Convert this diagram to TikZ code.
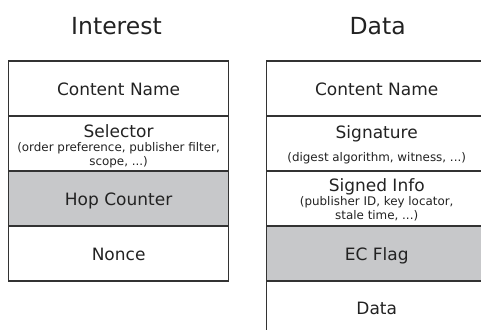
\documentclass[tikz,border=0pt]{standalone}
\usepackage{fontspec}
\setmainfont{DejaVu Sans}
\definecolor{fieldgray}{RGB}{199,200,202}
\definecolor{linecol}{RGB}{51,51,51}
\definecolor{txt}{RGB}{34,34,34}
\begin{document}
\begin{tikzpicture}[x=1pt,y=-1pt,
  field/.style={draw=linecol, line width=1.2pt, minimum width=220pt, minimum height=55pt, inner sep=0pt, outer sep=0pt},
  shaded/.style={field, fill=fieldgray},
  titletext/.style={font=\fontsize{23.5}{28}\selectfont, text=txt, anchor=base, inner sep=0pt},
  maintext/.style={font=\fontsize{17}{20}\selectfont, text=txt, anchor=base, inner sep=0pt},
  subtext/.style={font=\fontsize{11.9}{14}\selectfont, text=txt, anchor=base, inner sep=0pt}]
\useasboundingbox (0,0) rectangle (481,329);
\clip (0,0) rectangle (481,329);
% titles
\node[titletext] (tint) at (116.5,34.3) {Interest};
\node[titletext] (tdat) at (377.7,34.3) {Data};
% Interest fields
\node[field]  (iname) at (118.6,88.5)  {};
\node[field]  (isel)  at (118.6,143.5) {};
\node[shaded] (ihop)  at (118.6,198.5) {};
\node[field]  (inon)  at (118.6,253.5) {};
% Data fields
\node[field]  (dname) at (376.7,88.5)  {};
\node[field]  (dsig)  at (376.7,143.5) {};
\node[field]  (dinf)  at (376.7,198.5) {};
\node[shaded] (decf)  at (376.7,253.5) {};
\node[field]  (ddat)  at (376.7,308.5) {};
% Interest texts
\node[maintext] (inameT) at (118.6,95.5) {Content Name};
\node[maintext] (iselT)  at (118.6,137) {Selector};
\node[subtext]  (iselA)  at (118.6,151) {(order preference, publisher filter,};
\node[subtext]  (iselB)  at (118.6,165.3) {scope, ...)};
\node[maintext] (ihopT)  at (118.6,205.5) {Hop Counter};
\node[maintext] (inonT)  at (118.6,260.5) {Nonce};
% Data texts
\node[maintext] (dnameT) at (376.7,95.5) {Content Name};
\node[maintext] (dsigT)  at (376.7,138) {Signature};
\node[subtext]  (dsigA)  at (376.7,161) {(digest algorithm, witness, ...)};
\node[maintext] (dinfT)  at (376.7,191.3) {Signed Info};
\node[subtext]  (dinfA)  at (376.7,205.3) {(publisher ID, key locator,};
\node[subtext]  (dinfB)  at (376.7,219.3) {stale time, ...)};
\node[maintext] (decfT)  at (376.7,260) {EC Flag};
\node[maintext] (ddatT)  at (376.7,314) {Data};
\end{tikzpicture}
\end{document}
